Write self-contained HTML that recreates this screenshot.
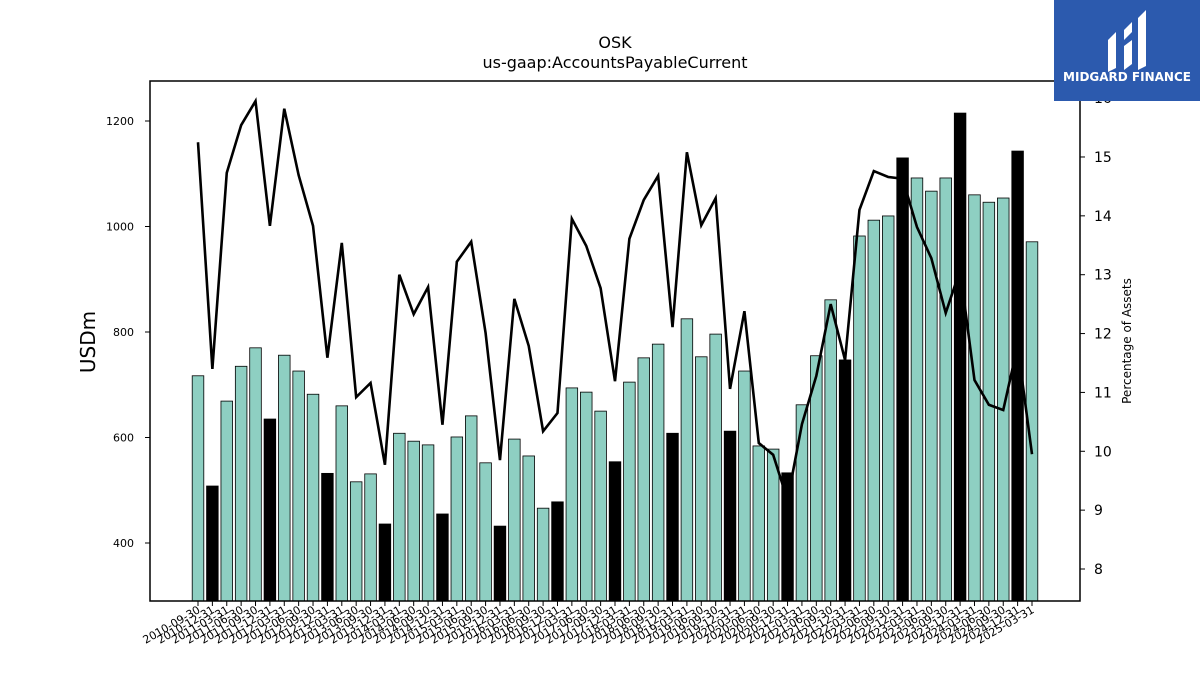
<!DOCTYPE html>
<html><head><meta charset="utf-8"><style>
body{margin:0;background:#fff;font-family:"Liberation Sans","DejaVu Sans",sans-serif}
svg text{font-family:"DejaVu Sans","Liberation Sans",sans-serif}
</style></head><body>
<svg id="c" width="1200" height="675" xmlns="http://www.w3.org/2000/svg">
<text x="615" y="48" font-size="16" text-anchor="middle">OSK</text>
<text x="615" y="68" font-size="16" text-anchor="middle">us-gaap:AccountsPayableCurrent</text>
<text transform="translate(95,342) rotate(-90)" font-size="20" text-anchor="middle">USDm</text>
<text transform="translate(1131,341) rotate(-90)" font-size="12" text-anchor="middle">Percentage of Assets</text>
<g id="bars"></g>
<g id="line"></g>
<g id="axes"></g>
<rect x="150" y="81" width="930" height="520" fill="none" stroke="#000" stroke-width="1.5"/>
<g>
<rect x="1054" y="0" width="146" height="101" fill="#2c5aae"/>
<path d="M1108 40 l8-8 v36 l-8 4z M1124 30 l8-8 v10 l-8 8z M1124 46 l8-6 v24 l-8 6z M1138 18 l8-8 v56 l-8 4z" fill="#fff"/>
<text x="1127" y="81" font-size="12" font-weight="bold" fill="#fff" text-anchor="middle">MIDGARD FINANCE</text>
</g>
</svg>
<script>
const dates=[];
const values=[717,508,669,735,770,635,756,726,682,532,660,516,531,436,608,593,586,455,601,641,552,432,597,565,466,478,694,686,650,554,705,751,777,608,825,753,796,612,726,584,578,533,662,755,861,747,982,1012,1020,1130,1092,1067,1092,1215,1060,1046,1054,1143,971];
const pct=[15.25,11.40,14.73,15.54,15.95,13.83,15.82,14.69,13.83,11.59,13.54,10.92,11.16,9.77,13.0,12.33,12.79,10.45,13.22,13.56,12.01,9.85,12.59,11.79,10.34,10.65,13.95,13.49,12.77,11.19,13.61,14.27,14.68,12.11,15.08,13.84,14.30,11.06,12.38,10.14,9.94,9.17,10.46,11.28,12.50,11.55,14.10,14.76,14.66,14.63,13.81,13.28,12.35,13.08,11.21,10.79,10.70,11.79,9.95];
const leftTicks=[400,600,800,1000,1200];
const rightTicks=[8,9,10,11,12,13,14,15,16];
const ends=["03-31","06-30","09-30","12-31"];
for(let y=2010,q=2;dates.length<59;){dates.push(y+"-"+ends[q]);q++;if(q>3){q=0;y++;}}
const NS="http://www.w3.org/2000/svg";
const X=i=>198+i*(1032-198)/58;
const Y=v=>543-(v-400)*0.5275;
const Y2=v=>569-(v-8)*58.86;
function el(t,a,p){const e=document.createElementNS(NS,t);for(const k in a)e.setAttribute(k,a[k]);document.getElementById(p).appendChild(e);return e;}
values.forEach((v,i)=>{
 const b=el("rect",{x:X(i)-5.8,y:Y(v),width:11.6,height:601-Y(v),fill:i%4==1?"#000":"#8ecfc2",stroke:"#000","stroke-width":0.8},"bars");
 
 
 const t=el("line",{x1:X(i),x2:X(i),y1:601,y2:606,stroke:"#000"},"axes");
 
 
 const l=el("text",{transform:`translate(${X(i)+3},${612}) rotate(-30)`,"font-size":11,"text-anchor":"end"},"axes");
 l.textContent=dates[i];
 
 
});
const p=el("polyline",{points:pct.map((v,i)=>X(i)+","+Y2(v)).join(" "),fill:"none",stroke:"#000","stroke-width":2.6},"line");


leftTicks.forEach(v=>{
 const t=el("line",{x1:145,x2:150,y1:Y(v),y2:Y(v),stroke:"#000"},"axes");
 
 
 const l=el("text",{x:134,y:Y(v)+4,"font-size":11,"text-anchor":"end"},"axes");
 l.textContent=v;
 
 
});
rightTicks.forEach(v=>{
 const t=el("line",{x1:1080,x2:1085,y1:Y2(v),y2:Y2(v),stroke:"#000"},"axes");
 
 
 const l=el("text",{x:1094,y:Y2(v)+5,"font-size":14},"axes");
 l.textContent=v;
 
 
});
</script>
</body></html>
